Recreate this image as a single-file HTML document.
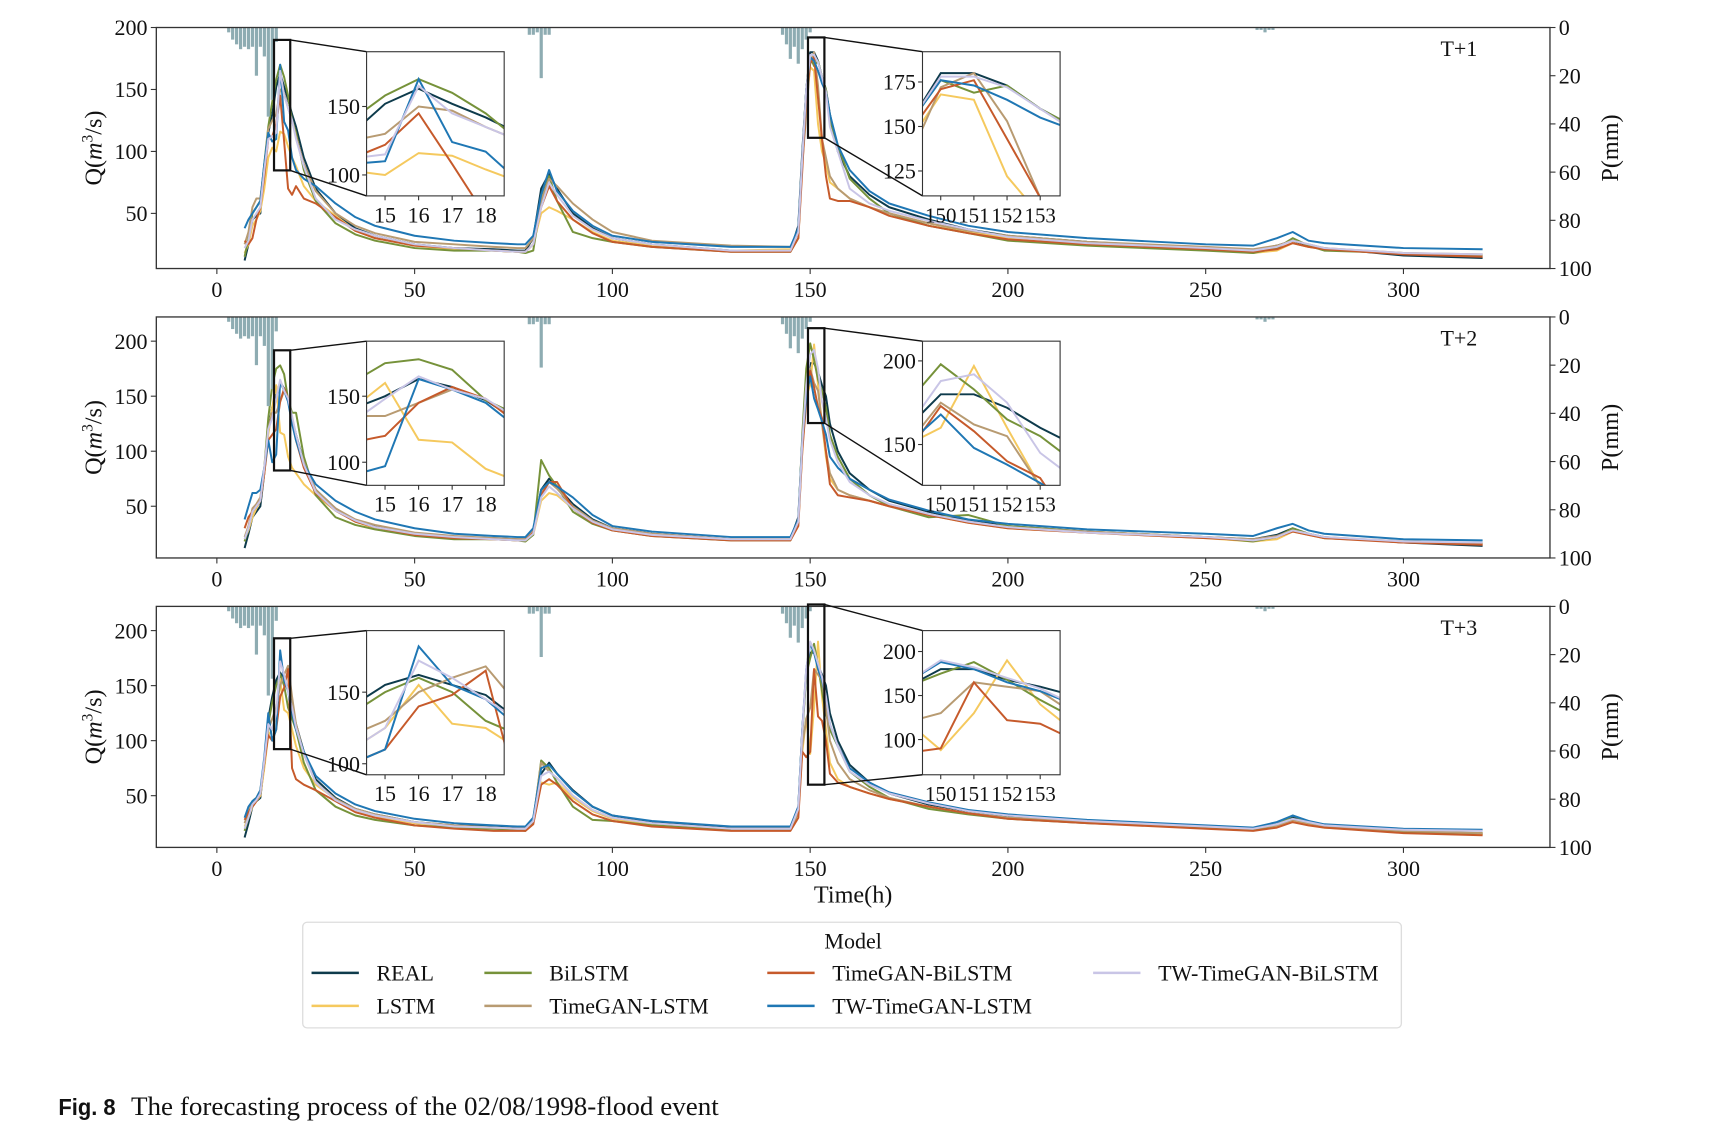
<!DOCTYPE html>
<html><head><meta charset="utf-8"><style>
html,body{margin:0;padding:0;background:#fff;}
svg{display:block;font-family:"Liberation Serif",serif;}
</style></head><body>
<svg id="chart" width="1725" height="1144" viewBox="0 0 1567 1039.5" preserveAspectRatio="none" xmlns="http://www.w3.org/2000/svg">
<defs></defs>
</svg>
<script>
// ---- data ----
const times = [7,8,9,10,11,12,13,14,15,16,17,18,19,20,22,25,30,35,40,50,60,70,76,78,80,82,84,86,90,95,100,110,130,145,147,148,149,150,151,152,153,154,155,157,160,165,170,180,190,200,220,250,262,268,272,276,280,300,320];
const seriesNames = ["REAL","LSTM","BiLSTM","TimeGAN-LSTM","TimeGAN-BiLSTM","TW-TimeGAN-LSTM","TW-TimeGAN-BiLSTM"];
const seriesColors = ["#0e3b4c","#f5c95e","#76923a","#b89b72","#c65a2b","#1f77b4","#c9c5e6"];
const panelLabels = ["T+1","T+2","T+3"];
const rainTimes = [3,4,5,6,7,8,9,10,11,12,13,14,15,79,80,81,82,83,84,143,144,145,146,147,148,149,150,263,264,265,266,267];
const rainValues = [2,5,7,9,8,9,8,20,8,12,37,30,6,3,3,2,21,3,3,3,7,13,8,15,9,5,2,1,1,2,1,1];
const xTicks = [0,50,100,150,200,250,300];
const pTicks = [0,20,40,60,80,100];

// Panel 1
const p1REAL   = [12,25,45,48,50,85,115,130,152,163,152,142,130,120,95,70,50,38,32,25,22,21,20,20,30,70,82,70,50,38,30,25,20,20,40,100,150,180,180,173,160,150,130,100,80,65,55,45,37,32,27,22,20,24,28,24,22,16,14];
const p1LSTM   = [18,25,40,45,52,70,95,103,100,116,114,104,95,88,72,60,48,36,30,24,21,20,19,19,25,50,55,52,45,35,28,24,20,21,35,90,140,168,165,122,100,90,75,70,62,55,50,42,35,30,26,21,18,20,26,23,21,18,16];
const p1BiLSTM = [15,30,50,55,60,90,120,140,158,170,160,145,125,115,85,60,42,33,28,22,20,20,19,18,20,60,80,60,35,30,27,23,19,19,30,95,150,176,169,173,160,150,125,105,78,62,50,40,34,28,24,20,18,22,30,24,20,18,16];
const p1TGL    = [25,35,55,62,62,88,118,125,130,150,147,135,125,112,90,68,50,40,34,27,25,23,22,22,30,60,78,72,58,45,35,28,24,23,35,90,130,172,180,153,110,95,80,70,62,55,50,42,36,32,27,23,21,24,28,25,22,18,17];
const p1TGB    = [28,25,30,45,55,80,110,112,122,145,108,70,65,72,62,58,47,36,30,24,22,20,19,19,25,55,72,60,45,34,27,23,19,19,30,85,145,171,176,143,110,80,62,60,60,55,48,40,34,29,25,21,19,21,26,23,21,17,15];
const p1TWL    = [38,45,50,55,60,90,115,108,110,170,124,117,95,85,78,72,58,47,40,32,28,26,25,25,32,65,85,68,52,40,32,27,23,23,38,95,150,176,173,165,155,148,130,105,85,68,58,48,40,35,30,25,24,30,35,28,26,22,21];
const p1TWB    = [22,28,45,50,55,85,110,112,115,165,145,135,125,110,88,62,45,37,32,25,22,20,19,19,25,55,75,65,48,37,30,25,20,20,35,95,150,178,178,172,160,148,120,100,70,58,52,44,37,31,26,22,20,23,28,25,22,18,17];
// Panel 2
const p2REAL   = [12,25,40,45,50,80,120,140,150,163,157,147,130,115,90,65,48,37,32,25,22,21,20,20,28,65,75,68,52,38,30,25,20,20,40,110,160,180,180,172,160,150,125,100,80,65,55,45,37,32,27,22,20,24,30,25,22,17,14];
const p2LSTM   = [20,28,40,48,55,80,115,140,160,117,115,95,85,80,70,60,46,36,30,24,21,20,19,19,24,55,62,60,48,36,29,24,20,20,35,100,150,160,197,160,125,95,75,65,60,55,50,42,35,30,26,21,18,20,27,24,21,18,16];
const p2BiLSTM = [18,30,45,50,55,85,130,160,175,178,170,147,135,135,95,60,40,33,29,23,20,20,19,18,24,92,78,68,45,34,28,23,19,19,35,115,175,198,183,165,155,140,115,95,75,60,50,40,42,32,27,22,18,22,30,25,21,18,16];
const p2TGL    = [22,32,48,52,58,85,120,135,135,145,155,148,130,112,90,65,48,38,33,26,23,21,20,20,28,62,72,66,50,37,30,25,20,20,38,105,150,175,162,155,125,100,80,65,60,55,50,42,36,31,27,22,20,23,28,25,22,18,16];
const p2TGB    = [30,40,45,50,55,80,110,115,120,145,157,148,128,110,85,62,46,36,31,24,21,20,19,19,26,60,72,72,48,35,28,23,19,19,32,100,145,173,158,140,130,100,70,60,58,55,50,42,35,30,26,21,19,22,27,24,21,17,15];
const p2TWL    = [38,50,62,62,65,85,110,90,97,163,155,145,125,110,88,70,55,45,38,30,25,23,22,22,30,65,72,68,58,42,32,27,22,22,38,110,150,168,148,138,127,115,95,85,75,65,56,46,38,34,29,25,23,30,34,28,25,20,19];
const p2TWB    = [20,30,45,50,55,85,120,130,148,165,155,148,132,115,88,63,46,37,31,25,22,20,19,19,25,58,68,62,48,36,29,24,20,20,36,108,160,188,192,175,145,130,110,90,72,60,52,43,36,31,26,22,19,22,28,25,22,18,17];
// Panel 3
const p3REAL   = [12,25,40,45,48,80,120,140,155,162,155,148,130,115,90,65,48,38,33,26,23,22,21,21,28,70,80,70,55,40,32,26,21,21,40,110,160,180,180,168,160,150,125,100,78,62,52,42,36,31,27,22,20,24,30,26,23,17,15];
const p3LSTM   = [22,30,40,45,50,75,105,110,125,155,128,125,110,95,75,60,47,37,31,25,22,21,20,20,26,62,60,62,48,36,29,24,20,20,35,90,120,88,130,190,140,110,80,65,58,52,47,40,34,30,26,21,19,22,26,24,21,17,15];
const p3BiLSTM = [18,30,45,48,52,80,115,135,150,160,150,130,120,110,80,55,40,32,28,23,21,20,19,18,26,82,75,62,40,28,27,23,19,19,35,105,160,175,188,168,145,125,110,95,72,58,48,38,33,29,25,21,19,23,32,26,22,17,16];
const p3TGL    = [25,35,45,48,55,80,110,120,130,150,160,168,140,115,88,62,47,38,33,26,23,21,20,20,28,80,72,66,50,37,30,25,20,20,35,95,120,130,165,160,155,130,100,80,65,55,48,40,34,30,26,22,20,23,28,25,22,18,16];
const p3TGB    = [28,35,40,45,52,80,105,100,110,140,148,165,75,65,60,55,45,35,30,23,20,18,18,18,24,60,65,60,45,33,27,22,18,18,30,90,85,90,165,122,118,100,70,62,58,52,47,40,34,29,25,20,18,21,26,23,21,16,14];
const p3TWL    = [30,40,45,48,55,85,125,100,110,182,155,145,125,110,90,68,52,42,36,29,25,23,22,22,30,75,78,70,54,40,32,27,22,22,40,110,165,188,180,165,155,140,115,95,75,62,53,44,37,33,28,23,21,26,32,27,24,20,19];
const p3TWB    = [20,30,42,46,52,82,115,110,125,172,160,145,130,112,88,62,46,37,32,26,22,21,20,20,27,68,72,66,50,37,30,25,20,20,38,108,165,190,182,170,158,140,115,95,72,60,52,43,36,32,27,22,20,24,29,26,23,19,18];

const panelSeries = [
  [p1REAL,p1LSTM,p1BiLSTM,p1TGL,p1TGB,p1TWL,p1TWB],
  [p2REAL,p2LSTM,p2BiLSTM,p2TGL,p2TGB,p2TWL,p2TWB],
  [p3REAL,p3LSTM,p3BiLSTM,p3TGL,p3TGB,p3TWL,p3TWB]
];
const panelYTicks = [[50,100,150,200],[50,100,150,200],[50,100,150,200]];
const panelYMax = [200,222,222];
const panelYMin = [5.5,3,3];
const leftInsetY = [[84.7,190],[82.5,191.7],[92.3,193]];
const leftInsetTicks = [[100,150],[100,150],[100,150]];
const rightInsetY = [[111,192],[125.6,211.8],[60,223.75]];
const rightInsetTicks = [[125,150,175],[150,200],[100,150,200]];
const leftInsetX = [14.45,18.55];
const rightInsetX = [149.45,153.6];
const leftInsetXTicks = [15,16,17,18];
const rightInsetXTicks = [150,151,152,153];

// ---- drawing ----
const NS="http://www.w3.org/2000/svg";
const svg=document.getElementById('chart');
const defs=svg.querySelector('defs');
function mk(tag,attrs,parent){const e=document.createElementNS(NS,tag);for(const k in attrs)e.setAttribute(k,attrs[k]);(parent||svg).appendChild(e);return e;}
const AX_L=142, AX_R=1408;
const X0=197, XS=3.593;
function xMain(t){return X0+t*XS;}
const panelTops=[25,288,551], PH=219;

panelTops.forEach((top,pi)=>{
  const g=mk('g',{});
  
  
  const yMin=panelYMin[pi], yMax=panelYMax[pi];
  const yMain=v=>top+PH-(v-yMin)/(yMax-yMin)*PH;
  const clipId='clipMain'+pi;
  const cp=mk('clipPath',{id:clipId},defs);mk('rect',{x:AX_L,y:top,width:AX_R-AX_L,height:PH},cp);
  const lg=mk('g',{'clip-path':'url(#'+clipId+')'},g);
  panelSeries[pi].forEach((arr,si)=>{
    const d=times.map((t,i)=>(i?'L':'M')+xMain(t).toFixed(1)+','+yMain(arr[i]).toFixed(1)).join(' ');
    const p=mk('path',{d:d,fill:'none',stroke:seriesColors[si],'stroke-width':1.8,'stroke-linejoin':'round'},lg);
    
    
  });
  const rg=mk('g',{},g);
  rainTimes.forEach((t,i)=>{
    const h=rainValues[i]/100*PH;
    const r=mk('rect',{x:(xMain(t)-XS*0.4).toFixed(1),y:top,width:(XS*0.8).toFixed(1),height:h.toFixed(1),fill:'#8eacb2'},rg);
    
    
  });
  mk('rect',{x:AX_L,y:top,width:AX_R-AX_L,height:PH,fill:'none',stroke:'#333','stroke-width':1.2},g);
  xTicks.forEach(v=>{const x=xMain(v);mk('line',{x1:x,x2:x,y1:top+PH,y2:top+PH+5,stroke:'#333'},g);
    const t=mk('text',{x:x,y:top+PH+26,'text-anchor':'middle','font-size':20,fill:'#111'},g);t.textContent=v;
    });
  panelYTicks[pi].forEach(v=>{const y=yMain(v);mk('line',{x1:AX_L-5,x2:AX_L,y1:y,y2:y,stroke:'#333'},g);
    const t=mk('text',{x:AX_L-8,y:y+7,'text-anchor':'end','font-size':20,fill:'#111'},g);t.textContent=v;
    });
  pTicks.forEach(v=>{const y=top+v/100*PH;mk('line',{x1:AX_R,x2:AX_R+5,y1:y,y2:y,stroke:'#333'},g);
    const t=mk('text',{x:AX_R+8,y:y+7,'font-size':20,fill:'#111'},g);t.textContent=v;
    });
  const yt=mk('text',{x:0,y:0,transform:'translate(92,'+(top+PH/2)+') rotate(-90)','text-anchor':'middle','font-size':22,fill:'#111'},g);
  yt.innerHTML='Q(<tspan font-style="italic">m</tspan><tspan dy="-8" font-size="14">3</tspan><tspan dy="8">/s)</tspan>';
  
  const pt=mk('text',{x:0,y:0,transform:'translate(1470,'+(top+PH/2)+') rotate(-90)','text-anchor':'middle','font-size':22,fill:'#111'},g);
  pt.textContent='P(mm)';
  const lab=mk('text',{x:1342,y:top+26,'text-anchor':'end','font-size':20,fill:'#111'},g);lab.textContent=panelLabels[pi];
  

  const insets=[[333,leftInsetX,leftInsetY[pi],leftInsetTicks[pi],leftInsetXTicks,'left'],[838,rightInsetX,rightInsetY[pi],rightInsetTicks[pi],rightInsetXTicks,'right']];
  insets.forEach(([ix,xr,yr,yt2,xt,side])=>{
    const iy=top+22, iw=125, ih=131;
    const ig=mk('g',{},g);
    
    const rx1=xMain(xr[0]), rx2=xMain(xr[1]), ry1=yMain(yr[1]), ry2=yMain(yr[0]);
    mk('rect',{x:rx1,y:ry1,width:rx2-rx1,height:ry2-ry1,fill:'none',stroke:'#111','stroke-width':2},ig);
    mk('line',{x1:rx2,y1:ry1,x2:ix,y2:iy,stroke:'#111','stroke-width':1.3},ig);
    mk('line',{x1:rx2,y1:ry2,x2:ix,y2:iy+ih,stroke:'#111','stroke-width':1.3},ig);
    mk('rect',{x:ix,y:iy,width:iw,height:ih,fill:'#fff'},ig);
    const xi=t=>ix+(t-xr[0])/(xr[1]-xr[0])*iw;
    const yi=v=>iy+ih-(v-yr[0])/(yr[1]-yr[0])*ih;
    const cid='clipIn'+pi+side;
    const c2=mk('clipPath',{id:cid},defs);mk('rect',{x:ix,y:iy,width:iw,height:ih},c2);
    const il=mk('g',{'clip-path':'url(#'+cid+')'},ig);
    panelSeries[pi].forEach((arr,si)=>{
      const d=times.map((t,i)=>(i?'L':'M')+xi(t).toFixed(1)+','+yi(arr[i]).toFixed(1)).join(' ');
      const p=mk('path',{d:d,fill:'none',stroke:seriesColors[si],'stroke-width':1.8},il);
      
      
    });
    mk('rect',{x:ix,y:iy,width:iw,height:ih,fill:'none',stroke:'#333','stroke-width':1},ig);
    xt.forEach(v=>{const x=xi(v);mk('line',{x1:x,x2:x,y1:iy+ih,y2:iy+ih+4,stroke:'#333'},ig);
      const t=mk('text',{x:x,y:iy+ih+24,'text-anchor':'middle','font-size':side==='left'?20:19,fill:'#111'},ig);t.textContent=v;
      });
    yt2.forEach(v=>{const y=yi(v);mk('line',{x1:ix-4,x2:ix,y1:y,y2:y,stroke:'#333'},ig);
      const t=mk('text',{x:ix-6,y:y+7,'text-anchor':'end','font-size':20,fill:'#111'},ig);t.textContent=v;
      });
  });
});
const xt=mk('text',{x:775,y:820,'text-anchor':'middle','font-size':22,fill:'#111'});xt.textContent='Time(h)';

const lgd=mk('g',{});

mk('rect',{x:275,y:838,width:998,height:96,rx:4,fill:'#fff',stroke:'#ddd','stroke-width':1.2},lgd);
const lt=mk('text',{x:775,y:862,'text-anchor':'middle','font-size':20,fill:'#111'},lgd);lt.textContent='Model';
const legPos=[[283,884],[283,914],[440,884],[440,914],[697,884],[697,914],[993,884]];
const legOrder=[0,1,2,3,4,5,6];
legOrder.forEach((si,k)=>{const [lx,ly]=legPos[k];
  const e=mk('g',{},lgd);
  
  
  mk('line',{x1:lx,x2:lx+43,y1:ly,y2:ly,stroke:seriesColors[si],'stroke-width':2.2},e);
  const t=mk('text',{x:lx+59,y:ly+7,'font-size':20,fill:'#111'},e);t.textContent=seriesNames[si];
});
const cap1=mk('text',{x:53,y:1013,'font-size':21,fill:'#111','font-family':'Liberation Sans, sans-serif','font-weight':'bold',textLength:52,lengthAdjust:'spacingAndGlyphs'});
cap1.textContent='Fig. 8';

const cap2=mk('text',{x:119,y:1013,'font-size':24,fill:'#111',textLength:534,lengthAdjust:'spacingAndGlyphs'});
cap2.textContent='The forecasting process of the 02/08/1998-flood event';

</script>
</body></html>
